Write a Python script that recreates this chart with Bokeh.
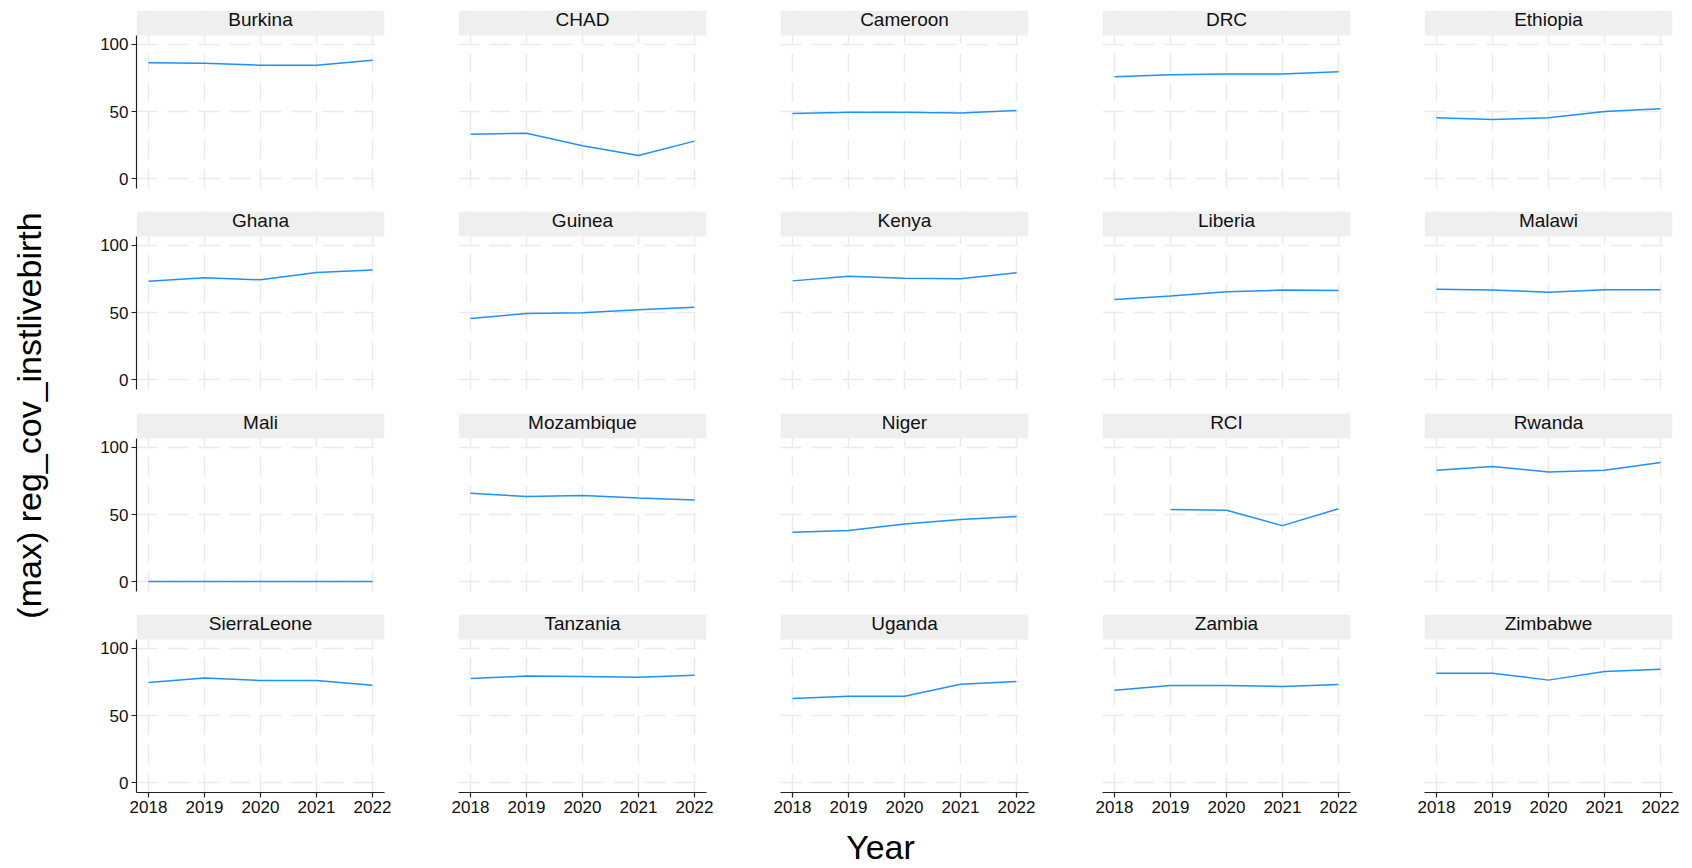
import math

from bokeh.embed import file_html
from bokeh.layouts import column, row
from bokeh.models import BoxAnnotation, ColumnDataSource, FixedTicker, Label
from bokeh.plotting import figure
from bokeh.resources import INLINE

# ---- data -------------------------------------------------------------
years = [2018, 2019, 2020, 2021, 2022]
y_ticks = [0, 50, 100]

countries = [
    "Burkina", "CHAD", "Cameroon", "DRC", "Ethiopia",
    "Ghana", "Guinea", "Kenya", "Liberia", "Malawi",
    "Mali", "Mozambique", "Niger", "RCI", "Rwanda",
    "SierraLeone", "Tanzania", "Uganda", "Zambia", "Zimbabwe",
]

burkina = [86.3, 86.0, 84.6, 84.6, 88.3]
chad = [33.1, 33.8, 24.4, 17.2, 27.9]
cameroon = [48.5, 49.5, 49.5, 48.8, 50.7]
drc = [75.9, 77.4, 77.9, 77.9, 79.6]
ethiopia = [45.3, 44.0, 45.3, 50.0, 52.0]
ghana = [73.4, 75.9, 74.4, 79.9, 81.8]
guinea = [45.5, 49.3, 49.8, 52.0, 54.0]
kenya = [73.6, 77.1, 75.6, 75.1, 79.6]
liberia = [59.7, 62.4, 65.4, 66.7, 66.4]
malawi = [67.4, 66.7, 65.2, 66.9, 66.9]
mali = [0.0, 0.0, 0.0, 0.0, 0.0]
mozambique = [65.9, 63.4, 64.2, 62.4, 60.9]
niger = [36.8, 38.1, 43.0, 46.3, 48.5]
rci = [float("nan"), 53.7, 53.2, 41.7, 54.3]
rwanda = [83.1, 85.8, 81.8, 83.1, 88.8]
sierraleone = [74.6, 77.9, 76.1, 76.1, 72.6]
tanzania = [77.6, 79.4, 79.1, 78.6, 80.1]
uganda = [62.7, 64.4, 64.4, 73.4, 75.4]
zambia = [68.9, 72.4, 72.4, 71.6, 73.1]
zimbabwe = [81.6, 81.6, 76.4, 82.8, 84.6]

values = [
    burkina, chad, cameroon, drc, ethiopia,
    ghana, guinea, kenya, liberia, malawi,
    mali, mozambique, niger, rci, rwanda,
    sierraleone, tanzania, uganda, zambia, zimbabwe,
]

# ---- styling / geometry ------------------------------------------------
FONT = "Liberation Sans"
LINE_COLOR = "#1E90FF"
GRID_COLOR = "#eaeaea"
STRIP_COLOR = "#efefef"
AXIS_COLOR = "#222222"
TEXT_COLOR = "#111111"

N_COLS, N_ROWS = 5, 4
FRAME_W, FRAME_H = 248, 178
X_LO, X_HI = 2017.786, 2022.214
Y_LO, Y_HI = -7.46, 125.37
STRIP_LO = 106.7          # strip band occupies the top of each frame
STRIP_TEXT_Y = STRIP_LO + (Y_HI - STRIP_LO) * 0.64

TITLE_W = 70
ROW_BOTTOM = [13, 14, 13, 30]


def make_panel(idx):
    r, c = divmod(idx, N_COLS)
    on_bottom = r == N_ROWS - 1
    on_left = c == 0
    p = figure(
        title=None,
        frame_width=FRAME_W, frame_height=FRAME_H,
        x_range=(X_LO, X_HI), y_range=(Y_LO, Y_HI),
        x_axis_location="below" if on_bottom else None,
        y_axis_location="left" if on_left else None,
        min_border_left=66 if on_left else 58,
        min_border_right=16,
        min_border_top=10,
        min_border_bottom=ROW_BOTTOM[r],
        output_backend="svg", toolbar_location=None,
    )
    p.outline_line_color = None
    p.background_fill_color = "white"
    p.border_fill_color = "white"

    for g, ticks, dash in ((p.xgrid, years, "19 10"), (p.ygrid, y_ticks, "21 10")):
        g.ticker = FixedTicker(ticks=ticks)
        g.grid_line_color = GRID_COLOR
        g.grid_line_width = 1.5
        g.grid_line_dash = dash

    if on_bottom:
        ax = p.xaxis[0]
        ax.ticker = FixedTicker(ticks=years)
    if on_left:
        ax = p.yaxis[0]
        ax.ticker = FixedTicker(ticks=y_ticks)
        ax.bounds = (Y_LO, STRIP_LO)
    for ax in list(p.xaxis) + list(p.yaxis):
        ax.axis_line_color = AXIS_COLOR
        ax.axis_line_width = 1.2
        ax.major_tick_line_color = AXIS_COLOR
        ax.major_tick_line_width = 1.2
        ax.major_tick_out = 5
        ax.major_tick_in = 0
        ax.minor_tick_out = 0
        ax.minor_tick_in = 0
        ax.major_label_standoff = 3
        ax.major_label_text_font = FONT
        ax.major_label_text_font_size = "17px"
        ax.major_label_text_color = TEXT_COLOR

    # grey strip with the country name
    p.add_layout(BoxAnnotation(bottom=STRIP_LO, top=Y_HI, fill_color=STRIP_COLOR,
                               fill_alpha=1.0, line_color=None))
    p.add_layout(Label(x=(X_LO + X_HI) / 2, y=STRIP_TEXT_Y, text=countries[idx],
                       text_align="center", text_baseline="alphabetic",
                       text_font=FONT, text_font_size="19px", text_color=TEXT_COLOR))

    src = ColumnDataSource(data=dict(year=years, val=values[idx]))
    p.line("year", "val", source=src, line_color=LINE_COLOR, line_width=1.5)
    return p


panels = [make_panel(i) for i in range(N_COLS * N_ROWS)]
grid_rows = [row(*panels[r * N_COLS:(r + 1) * N_COLS]) for r in range(N_ROWS)]
grid_width = sum(p.frame_width + p.min_border_left + p.min_border_right for p in panels[:N_COLS])

# x title below the grid
XT_H = 42
xt = figure(title=None, width=grid_width, height=XT_H, x_range=(0, grid_width), y_range=(0, XT_H),
            x_axis_location=None, y_axis_location=None, min_border=0,
            output_backend="svg", toolbar_location=None)
xt.grid.visible = False
xt.outline_line_color = None
xt.add_layout(Label(x=810, y=18, text="Year", text_align="center",
                    text_baseline="alphabetic", text_font=FONT,
                    text_font_size="34px", text_color="#000000"))

grid_height = sum(10 + FRAME_H + b for b in ROW_BOTTOM) + XT_H

# rotated y title left of the grid
yt = figure(title=None, width=TITLE_W, height=grid_height, x_range=(0, TITLE_W), y_range=(0, grid_height),
            x_axis_location=None, y_axis_location=None, min_border=0,
            output_backend="svg", toolbar_location=None)
yt.grid.visible = False
yt.outline_line_color = None
yt.add_layout(Label(x=28, y=grid_height - 415, text="(max) reg_cov_instlivebirth",
                    angle=math.pi / 2, text_align="center", text_baseline="alphabetic",
                    text_font=FONT, text_font_size="34px", text_color="#000000"))

layout = row(yt, column(*grid_rows, xt))

with open("out.html", "w") as f:
    f.write(file_html(layout, INLINE))
